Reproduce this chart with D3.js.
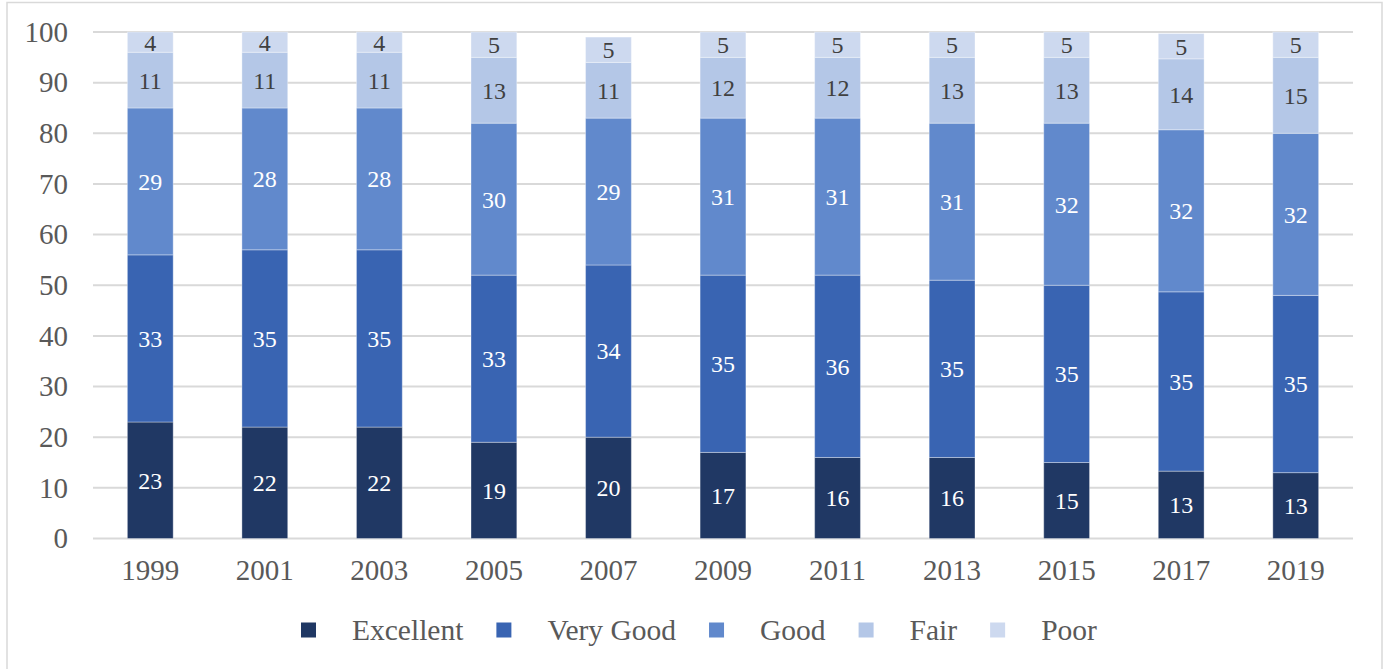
<!DOCTYPE html>
<html>
<head>
<meta charset="utf-8">
<script src="https://cdn.jsdelivr.net/npm/d3@7"></script>
<style>
  body { margin: 0; background: #fff; }
  svg { display: block; font-family: "Liberation Serif", "Times New Roman", serif; }
</style>
</head>
<body>
<div id="chart"></div>
<script>
var years = ["1999", "2001", "2003", "2005", "2007", "2009", "2011", "2013", "2015", "2017", "2019"];
var seriesNames = ["Excellent", "Very Good", "Good", "Fair", "Poor"];
var excellent = [23, 22, 22, 19, 20, 17, 16, 16, 15, 13.3, 13];
var veryGood = [33, 35, 35, 33, 34, 35, 36, 35, 35, 35.4, 35];
var good = [29, 28, 28, 30, 29, 31, 31, 31, 32, 32, 32];
var fair = [11, 11, 11, 13, 11, 12, 12, 13, 13, 14, 15];
var poor = [4, 4, 4, 5, 5, 5, 5, 5, 5, 5, 5];
var yTicks = [0, 10, 20, 30, 40, 50, 60, 70, 80, 90, 100];

var colors = ["#203864", "#3964b2", "#6189cc", "#b4c7e7", "#cdd9ef"];
var labelColors = ["#ffffff", "#ffffff", "#ffffff", "#404040", "#404040"];

var width = 1383;
var height = 669;

// build rows for the stack
var rows = years.map(function (y, i) {
    return {
        year: y,
        "Excellent": excellent[i],
        "Very Good": veryGood[i],
        "Good": good[i],
        "Fair": fair[i],
        "Poor": poor[i]
    };
});
var stacked = d3.stack().keys(seriesNames)(rows);

var svg = d3.select("#chart")
    .append("svg")
    .attr("width", width)
    .attr("height", height);

// chart border
svg.append("rect")
    .attr("x", 7)
    .attr("y", 2.5)
    .attr("width", 1375)
    .attr("height", 680)
    .style("fill", "none")
    .style("stroke", "#d9d9d9")
    .style("stroke-width", 1.5);

var x = d3.scaleBand()
    .domain(years)
    .range([93, 1353])
    .paddingInner(0.6)
    .paddingOuter(0.3);

var y = d3.scaleLinear()
    .domain([0, 100])
    .range([538.5, 32]);

// gridlines
svg.append("g")
    .selectAll("line")
    .data(yTicks)
    .enter()
    .append("line")
    .attr("x1", 93)
    .attr("x2", 1353)
    .attr("y1", function (d) { return y(d); })
    .attr("y2", function (d) { return y(d); })
    .style("stroke", "#d9d9d9")
    .style("stroke-width", 2);

// y axis labels
var yAxis = d3.axisLeft(y).tickValues(yTicks).tickSize(0).tickPadding(0);
var yg = svg.append("g")
    .attr("transform", "translate(68,0)")
    .call(yAxis);
yg.select(".domain").remove();
yg.selectAll("text")
    .style("font-family", "Liberation Serif")
    .style("font-size", "29px")
    .style("fill", "#595959");

// x axis labels
var xAxis = d3.axisBottom(x).tickSize(0).tickPadding(0);
var xg = svg.append("g")
    .attr("transform", "translate(0,559)")
    .call(xAxis);
xg.select(".domain").remove();
xg.selectAll("text")
    .style("font-family", "Liberation Serif")
    .style("font-size", "29px")
    .style("fill", "#595959");

// bars
var layers = svg.append("g")
    .selectAll("g")
    .data(stacked)
    .enter()
    .append("g")
    .style("fill", function (d, i) { return colors[i]; });

layers.selectAll("rect")
    .data(function (d) { return d; })
    .enter()
    .append("rect")
    .attr("x", function (d) { return x(d.data.year); })
    .attr("y", function (d) { return y(d[1]); })
    .attr("width", x.bandwidth())
    .attr("height", function (d) { return y(d[0]) - y(d[1]); })
    .style("stroke", "#ffffff")
    .style("stroke-opacity", 0.35)
    .style("stroke-width", 1);

// data labels
stacked.forEach(function (layer, i) {
    svg.append("g")
        .selectAll("text")
        .data(layer)
        .enter()
        .append("text")
        .attr("x", function (d) { return x(d.data.year) + x.bandwidth() / 2; })
        .attr("y", function (d) { return (y(d[0]) + y(d[1])) / 2; })
        .attr("dy", ".35em")
        .attr("text-anchor", "middle")
        .style("font-size", "24px")
        .style("fill", labelColors[i])
        .text(function (d) { return Math.round(d[1] - d[0]); });
});

// legend
var legX = 301;
var legY = 630;
seriesNames.forEach(function (name, i) {
    svg.append("rect")
        .attr("x", legX)
        .attr("y", legY - 7.5)
        .attr("width", 15)
        .attr("height", 15)
        .style("fill", colors[i]);
    var t = svg.append("text")
        .attr("x", legX + 51)
        .attr("y", legY)
        .attr("dy", ".35em")
        .style("font-size", "29.5px")
        .style("fill", "#595959")
        .text(name);
    legX += 51 + t.node().getComputedTextLength() + 33;
});
</script>
</body>
</html>
